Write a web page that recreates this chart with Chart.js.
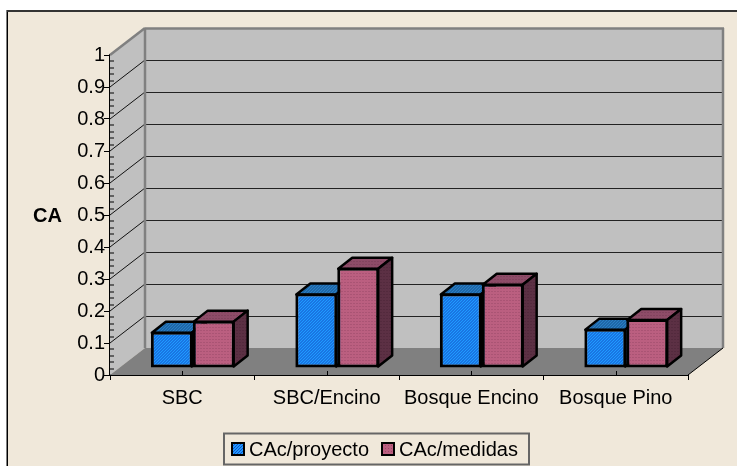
<!DOCTYPE html>
<html>
<head>
<meta charset="utf-8">
<title>CA</title>
<script src="https://cdn.jsdelivr.net/npm/chart.js@4"></script>
<style>
    html, body { margin: 0; padding: 0; background: #fff; }
    canvas { display: block; }
</style>
</head>
<body>
<canvas id="ca-chart" width="737" height="466"></canvas>
<script>
const categories = ['SBC', 'SBC/Encino', 'Bosque Encino', 'Bosque Pino'];
const proyectoValues = [0.113, 0.233, 0.233, 0.123];
const medidasValues = [0.148, 0.313, 0.263, 0.153];
const seriesNames = ['CAc/proyecto', 'CAc/medidas'];
const axisTitle = 'CA';

const FONT = '"Liberation Sans", Arial, sans-serif';
const WALL = { dx: 35, dy: -27 };   // back wall offset from the front plane
const BAR_SHIFT = { dx: 10.5, dy: -7 };   // bars stand in the middle of the floor
const BAR_DEPTH = { dx: 14, dy: -11 };

// small tiled fill: base colour plus a list of [x, y, colour] pixels
function makePattern(size, base, pixels) {
    const c = document.createElement('canvas');
    c.width = c.height = size;
    const g = c.getContext('2d');
    g.fillStyle = base;
    g.fillRect(0, 0, size, size);
    pixels.forEach(p => {
        g.fillStyle = p[2];
        g.fillRect(p[0], p[1], 1, 1);
    });
    return document.createElement('canvas').getContext('2d').createPattern(c, 'repeat');
}

function diagonal(base, dark) {
    return makePattern(3, base, [[0, 0, dark], [1, 2, dark], [2, 1, dark]]);
}
function dotted(base, dark) {
    return makePattern(3, base, [[1, 1, dark]]);
}

const blueFront = diagonal('#1f9bff', '#1450c8');
const blueTop = diagonal('#2a7fc4', '#14508c');
const blueSide = diagonal('#1c5f96', '#103c66');
const redFront = dotted('#bb5f80', '#9a4a68');
const redTop = dotted('#8e4c68', '#743c54');
const redSide = dotted('#5c3044', '#4a2436');

function poly(ctx, pts, fill, stroke, width) {
    ctx.beginPath();
    pts.forEach((p, i) => i ? ctx.lineTo(p[0], p[1]) : ctx.moveTo(p[0], p[1]));
    ctx.closePath();
    if (fill) {
        ctx.fillStyle = fill;
        ctx.fill();
    }
    if (stroke) {
        ctx.strokeStyle = stroke;
        ctx.lineWidth = width;
        ctx.stroke();
    }
}

function line(ctx, x1, y1, x2, y2, color, width) {
    ctx.beginPath();
    ctx.moveTo(x1, y1);
    ctx.lineTo(x2, y2);
    ctx.strokeStyle = color;
    ctx.lineWidth = width;
    ctx.stroke();
}

// page frame, only on the left and top
const framePlugin = {
    id: 'frame',
    beforeDraw(chart) {
        const ctx = chart.ctx;
        ctx.save();
        ctx.fillStyle = '#f0e8da';
        ctx.fillRect(7, 10, chart.width - 7, chart.height - 10);
        ctx.fillStyle = '#000';
        ctx.fillRect(6.5, 10, 1.5, chart.height - 10);
        ctx.fillStyle = '#333';
        ctx.fillRect(7, 10, chart.width - 7, 2);
        ctx.restore();
    }
};

// side wall, back wall, floor and their grid lines
const roomPlugin = {
    id: 'room',
    beforeDatasetsDraw(chart) {
        const ctx = chart.ctx;
        const { left, right, top, bottom } = chart.chartArea;
        const y = chart.scales.y;
        const d = WALL;
        ctx.save();
        poly(ctx, [[left, top], [left + d.dx, top + d.dy], [left + d.dx, bottom + d.dy], [left, bottom]], '#c0c0c0');
        ctx.fillStyle = '#c0c0c0';
        ctx.fillRect(left + d.dx, top + d.dy, right - left, bottom - top);
        poly(ctx, [[left, bottom], [right, bottom], [right + d.dx, bottom + d.dy], [left + d.dx, bottom + d.dy]], '#808080');

        y.ticks.forEach(t => {
            if (t.value === 0 || t.value === 1) return;
            const py = Math.round(y.getPixelForValue(t.value));
            line(ctx, left, py, left + d.dx, py + d.dy, '#111', 1);
            line(ctx, left + d.dx, py + d.dy + 0.5, right + d.dx, py + d.dy + 0.5, '#222', 1);
        });

        // grey outline of the walls
        line(ctx, left, top, left + d.dx, top + d.dy, '#808080', 2.5);
        line(ctx, left + d.dx, top + d.dy + 0.5, right + d.dx + 1, top + d.dy + 0.5, '#808080', 2.5);
        line(ctx, left + d.dx, top + d.dy, left + d.dx, bottom + d.dy, '#808080', 2.5);
        line(ctx, right + d.dx, top + d.dy, right + d.dx, bottom + d.dy, '#808080', 2.5);
        line(ctx, right, bottom, right + d.dx, bottom + d.dy, '#000', 1);

        // minor ticks on the value axis, inner ticks on the category axis
        for (let i = 0; i <= 50; i++) {
            if (i % 5 === 0) continue;
            const py = Math.round(y.getPixelForValue(i / 50));
            line(ctx, left, py, left + 4, py, '#000', 1);
        }
        chart.scales.x.ticks.forEach((t, i) => {
            const px = Math.round(chart.scales.x.getPixelForTick(i)) + 0.5;
            line(ctx, px, bottom, px, bottom - 4, '#000', 1);
        });
        ctx.restore();
    }
};

// top and right faces behind each bar, then shift the bars themselves
const depthPlugin = {
    id: 'depth',
    beforeDatasetsDraw(chart) {
        const ctx = chart.ctx;
        const d = BAR_DEPTH;
        ctx.save();
        ctx.translate(BAR_SHIFT.dx, BAR_SHIFT.dy);
        ctx.lineJoin = 'round';
        chart.data.datasets.forEach((ds, di) => {
            chart.getDatasetMeta(di).data.forEach(bar => {
                const l = bar.x - bar.width / 2 + 1;
                const r = bar.x + bar.width / 2 - 1;
                const t = bar.y + 1;
                const b = bar.base - 1;
                poly(ctx, [[l, t], [l + d.dx, t + d.dy], [r + d.dx, t + d.dy], [r, t]], di ? redTop : blueTop, '#000', 2.5);
                poly(ctx, [[r, t], [r + d.dx, t + d.dy], [r + d.dx, b + d.dy], [r, b]], di ? redSide : blueSide, '#000', 2.5);
            });
        });
    },
    afterDatasetsDraw(chart) {
        chart.ctx.restore();
    }
};

// legend box and the horizontal axis title
const labelsPlugin = {
    id: 'labels',
    afterDraw(chart) {
        const ctx = chart.ctx;
        ctx.save();
        ctx.strokeStyle = '#666';
        ctx.lineWidth = 2;
        ctx.strokeRect(224, 433.5, 305, 31);

        ctx.font = '20px ' + FONT;
        ctx.fillStyle = '#000';
        ctx.textBaseline = 'middle';
        ctx.textAlign = 'left';
        const entries = [[231, blueFront], [381, redFront]];
        chart.data.datasets.forEach((ds, i) => {
            const x = entries[i][0];
            ctx.fillStyle = entries[i][1];
            ctx.fillRect(x, 442, 14, 14);
            ctx.strokeStyle = '#000';
            ctx.lineWidth = 2;
            ctx.strokeRect(x + 1, 443, 12, 12);
            ctx.fillStyle = '#000';
            ctx.fillText(ds.label, x + 18, 450);
        });

        ctx.font = 'bold 20px ' + FONT;
        ctx.textAlign = 'left';
        ctx.fillText(axisTitle, 33, 216);
        ctx.restore();
    }
};

new Chart(document.getElementById('ca-chart'), {
    type: 'bar',
    data: {
        labels: categories,
        datasets: [
            { label: seriesNames[0], data: proyectoValues, backgroundColor: blueFront },
            { label: seriesNames[1], data: medidasValues, backgroundColor: redFront }
        ]
    },
    options: {
        responsive: false,
        animation: false,
        layout: { padding: { top: 55, right: 49, left: 0, bottom: 0 } },
        elements: {
            bar: { borderColor: '#000', borderWidth: 3, borderSkipped: false }
        },
        datasets: {
            bar: { categoryPercentage: 0.58, barPercentage: 1 }
        },
        plugins: {
            legend: { display: false },
            tooltip: { enabled: false }
        },
        scales: {
            x: {
                afterFit(scale) { scale.height = 91; },
                grid: { drawOnChartArea: false, offset: true, tickLength: 5, tickColor: '#000' },
                border: { color: '#000', width: 2 },
                ticks: {
                    color: '#000',
                    padding: 6,
                    maxRotation: 0,
                    autoSkip: false,
                    font: { family: FONT, size: 20 }
                }
            },
            y: {
                min: 0,
                max: 1,
                afterFit(scale) { scale.width = 110; },
                grid: { drawOnChartArea: false, tickLength: 6, tickColor: '#000' },
                border: { color: '#000', width: 2 },
                ticks: {
                    stepSize: 0.1,
                    color: '#000',
                    padding: -1,
                    font: { family: FONT, size: 20 },
                    callback: v => String(+v.toFixed(1))
                }
            }
        }
    },
    plugins: [framePlugin, roomPlugin, depthPlugin, labelsPlugin]
});
</script>
</body>
</html>
